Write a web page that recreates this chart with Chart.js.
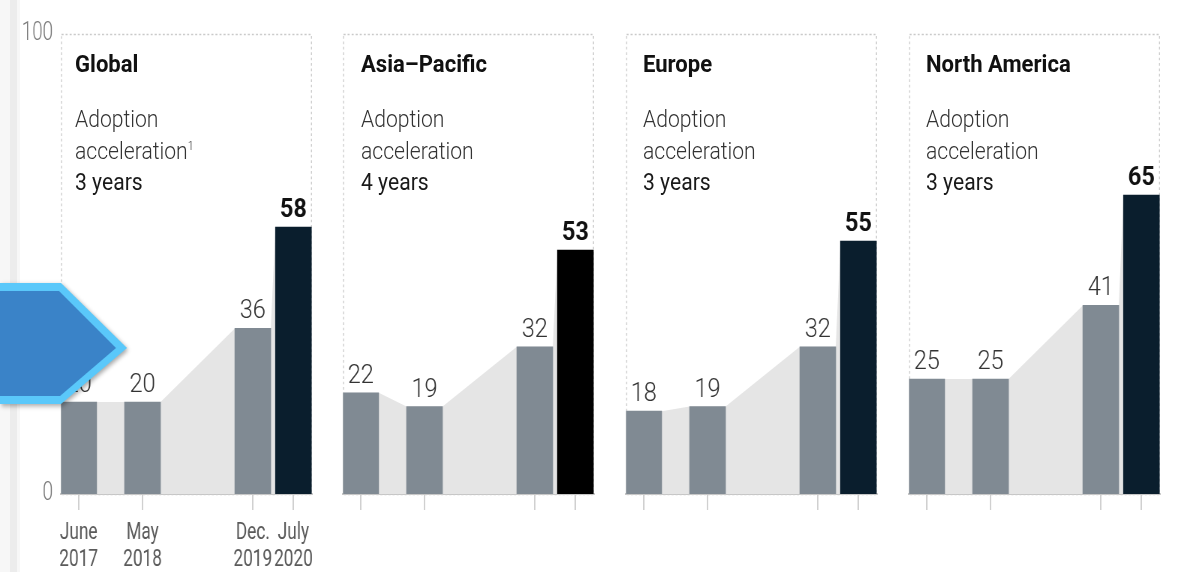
<!DOCTYPE html>
<html lang="en">

<head>
    <meta charset="UTF-8">
    <title>Adoption acceleration by region</title>
    <script src="https://cdn.jsdelivr.net/npm/chart.js"></script>
    <style>
        body { margin: 0; background: #fff; }
        #wrap { position: relative; width: 1178px; height: 572px; overflow: hidden; font-family: Roboto, sans-serif; }
        .panel { position: absolute; top: 0; height: 572px; transform-origin: 0 0; }
        .strip { position: absolute; top: 0; height: 572px; }
        .head { position: absolute; top: 49px; font-size: 24px; font-weight: 700; line-height: 30px; color: #111;
                transform: scaleX(0.92); transform-origin: left; white-space: nowrap; }
        .note { position: absolute; top: 104px; font-size: 24px; line-height: 31.5px; color: #333; font-weight: 300;
                transform: scaleX(0.88); transform-origin: left; white-space: nowrap; }
        .note b { font-weight: 400; color: #1a1a1a; }
        .note sup { font-size: 12px; line-height: 0; }
    </style>
</head>

<body>
    <div id="wrap">
        <div class="strip" style="left:0;width:20px;background:#f7f7f7"></div>
        <div class="strip" style="left:10px;width:7px;background:#ececec"></div>

        <div class="panel" id="p0"><canvas id="c0"></canvas></div>
        <div class="panel" id="p1"><canvas id="c1"></canvas></div>
        <div class="panel" id="p2"><canvas id="c2"></canvas></div>
        <div class="panel" id="p3"><canvas id="c3"></canvas></div>

        <!-- Panel headings -->
        <div class="head" style="left:75px">Global</div>
        <div class="note" style="left:75px">Adoption<br>acceleration<sup>1</sup><br><b>3 years</b></div>
        <div class="head" style="left:361px">Asia–Pacific</div>
        <div class="note" style="left:361px">Adoption<br>acceleration<br><b>4 years</b></div>
        <div class="head" style="left:643px">Europe</div>
        <div class="note" style="left:643px">Adoption<br>acceleration<br><b>3 years</b></div>
        <div class="head" style="left:926px">North America</div>
        <div class="note" style="left:926px">Adoption<br>acceleration<br><b>3 years</b></div>
    </div>

    <script>
        // survey dates, as months since June 2017
        const months = [0, 11, 30, 37];
        const tickTop = ['June', 'May', 'Dec.', 'July'];
        const tickBottom = ['2017', '2018', '2019', '2020'];
        const yTicks = [0, 100];

        // share of digital or digitally enabled offerings, %
        const globalValues = [20, 20, 36, 58];
        const asiaValues = [22, 19, 32, 53];
        const europeValues = [18, 19, 32, 55];
        const northAmericaValues = [25, 25, 41, 65];

        const GRAY = '#808a93';
        const NAVY = '#0a1e2d';

        // the canvases are drawn wide and squeezed, which gives the narrow type of the original
        const S = 0.75;
        const w = v => v / S;

        // dashed frame and the light grey band joining the bar tops
        const backdrop = {
            id: 'backdrop',
            beforeDatasetsDraw(chart) {
                const { ctx, chartArea: a } = chart;
                ctx.save();
                ctx.strokeStyle = '#c9c9c9';
                ctx.lineWidth = 1.3;
                ctx.setLineDash([2.7, 2.7]);
                ctx.strokeRect(a.left + 0.7, a.top + 0.5, a.right - a.left - 1.4, a.bottom - a.top);
                ctx.setLineDash([]);

                const bars = chart.getDatasetMeta(0).data;
                ctx.beginPath();
                ctx.moveTo(bars[0].x - bars[0].width / 2, bars[0].base);
                bars.forEach(b => {
                    ctx.lineTo(b.x - b.width / 2, b.y);
                    ctx.lineTo(b.x + b.width / 2, b.y);
                });
                const last = bars[bars.length - 1];
                ctx.lineTo(last.x + last.width / 2, last.base);
                ctx.closePath();
                ctx.fillStyle = '#e5e5e5';
                ctx.fill();
                ctx.restore();
            }
        };

        // numbers above bars, latest one in bold
        const valueLabels = {
            id: 'valueLabels',
            afterDatasetsDraw(chart) {
                const { ctx } = chart;
                const ds = chart.data.datasets[0];
                const bars = chart.getDatasetMeta(0).data;
                ctx.save();
                ctx.textAlign = 'center';
                ctx.textBaseline = 'alphabetic';
                bars.forEach((b, i) => {
                    const isLast = i === bars.length - 1;
                    ctx.font = (isLast ? '700 ' : '300 ') + '26px Roboto';
                    ctx.fillStyle = isLast ? '#111' : '#333';
                    ctx.save();
                    ctx.translate(b.x, b.y - 10);
                    ctx.scale(0.9 / S, 1);
                    ctx.fillText(String(ds.data[i].y), 0, 0);
                    ctx.restore();
                });
                ctx.restore();
            }
        };

        // blue arrow button sitting over the left edge
        const arrow = {
            id: 'arrow',
            afterDraw(chart) {
                const { ctx } = chart;
                ctx.save();
                ctx.shadowColor = 'rgba(0,0,0,0.35)';
                ctx.shadowBlur = 5;
                ctx.shadowOffsetX = 2;
                ctx.shadowOffsetY = 2;
                ctx.beginPath();
                ctx.moveTo(0, 283); ctx.lineTo(w(61), 283); ctx.lineTo(w(127), 348);
                ctx.lineTo(w(61), 404); ctx.lineTo(0, 404); ctx.closePath();
                ctx.fillStyle = '#5ac8fa';
                ctx.fill();
                ctx.shadowColor = 'transparent';
                ctx.beginPath();
                ctx.moveTo(0, 291); ctx.lineTo(w(59), 291); ctx.lineTo(w(116), 348);
                ctx.lineTo(w(60), 396); ctx.lineTo(0, 396); ctx.closePath();
                ctx.fillStyle = '#3a83c8';
                ctx.fill();
                ctx.restore();
            }
        };

        // left / width in page pixels; plot area is 251px wide in every panel
        function makePanel(n, values, lastColor, left, width, plotLeft, isGlobal) {
            const box = document.getElementById('p' + n);
            box.style.left = left + 'px';
            box.style.width = w(width) + 'px';
            box.style.transform = 'scaleX(' + S + ')';

            const padLeft = isGlobal ? 0 : plotLeft - left;
            const padRight = left + width - (plotLeft + 251);
            const plugins = [backdrop, valueLabels];
            if (isGlobal) plugins.push(arrow);

            return new Chart(document.getElementById('c' + n), {
                type: 'bar',
                data: {
                    datasets: [{
                        data: months.map((m, i) => ({ x: m, y: values[i] })),
                        backgroundColor: values.map((v, i) => i === values.length - 1 ? lastColor : GRAY),
                        borderWidth: 0,
                        barThickness: w(36)
                    }]
                },
                options: {
                    responsive: true,
                    maintainAspectRatio: false,
                    animation: false,
                    events: [],
                    layout: { padding: { left: w(padLeft), right: w(padRight), top: 34, bottom: 0 } },
                    plugins: { legend: { display: false }, tooltip: { enabled: false } },
                    scales: {
                        x: {
                            type: 'linear',
                            min: -3.05,
                            max: 40.2,
                            offset: false,
                            afterBuildTicks: s => { s.ticks = months.map(v => ({ value: v })); },
                            afterFit: s => { s.height = 78; },
                            grid: { offset: false, drawOnChartArea: false, drawTicks: true, tickLength: 16, color: '#d0d0d0', lineWidth: 2 },
                            border: { color: '#c6c6c6', width: 2 },
                            ticks: {
                                autoSkip: false,
                                maxRotation: 0,
                                padding: 9,
                                color: '#5a5a5a',
                                font: { family: 'Roboto', size: 23, weight: '400', lineHeight: 1.2 },
                                callback: v => {
                                    const i = months.indexOf(v);
                                    return isGlobal && i >= 0 ? [tickTop[i], tickBottom[i]] : '';
                                }
                            }
                        },
                        y: {
                            display: isGlobal,
                            min: 0,
                            max: 100,
                            afterBuildTicks: s => { s.ticks = yTicks.map(v => ({ value: v })); },
                            afterFit: s => { if (isGlobal) s.width = w(61); },
                            grid: { display: false, drawTicks: false },
                            border: { display: false },
                            ticks: { padding: w(8), color: '#7a7a7a', font: { family: 'Roboto', size: 25, weight: '300' } }
                        }
                    }
                },
                plugins: plugins
            });
        }

        makePanel(0, globalValues, NAVY, 0, 330, 61, true);
        makePanel(1, asiaValues, '#000000', 330, 280, 343, false);
        makePanel(2, europeValues, NAVY, 613, 280, 626, false);
        makePanel(3, northAmericaValues, NAVY, 896, 282, 909, false);
    </script>
</body>

</html>
